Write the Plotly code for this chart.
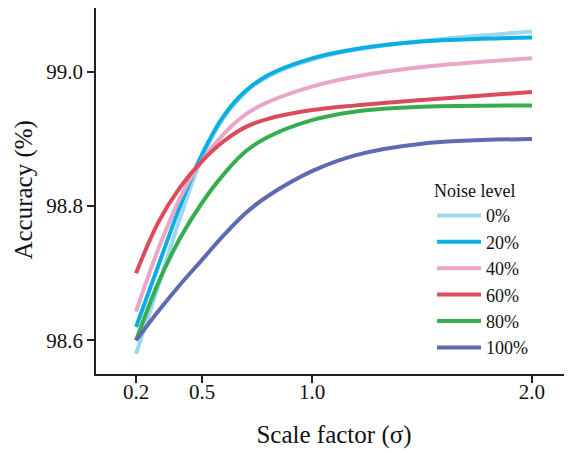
import plotly.graph_objects as go

scale = [0.2, 0.3, 0.4, 0.5, 0.6, 0.7, 0.8, 1.0, 1.2, 1.5, 2.0]

acc_0 = [98.58, 98.68, 98.782, 98.872, 98.932, 98.970, 98.993, 99.018, 99.033, 99.046, 99.06]
acc_20 = [98.62, 98.71, 98.80, 98.877, 98.935, 98.972, 98.995, 99.02, 99.034, 99.045, 99.051]
acc_40 = [98.643, 98.735, 98.812, 98.868, 98.908, 98.937, 98.955, 98.978, 98.993, 99.007, 99.02]
acc_60 = [98.70, 98.775, 98.828, 98.867, 98.897, 98.918, 98.93, 98.943, 98.950, 98.958, 98.97]
acc_80 = [98.60, 98.685, 98.752, 98.805, 98.848, 98.882, 98.903, 98.928, 98.941, 98.948, 98.95]
acc_100 = [98.60, 98.643, 98.683, 98.72, 98.757, 98.79, 98.815, 98.852, 98.876, 98.893, 98.90]

series_names = ["0%", "20%", "40%", "60%", "80%", "100%"]
series_values = [acc_0, acc_20, acc_40, acc_60, acc_80, acc_100]
colors = ["#9dd7f1", "#0aaee3", "#e9a6c6", "#dc4b5b", "#38ad4f", "#5e6bb0"]

x_ticks = [0.2, 0.5, 1.0, 2.0]
x_tick_labels = ["0.2", "0.5", "1.0", "2.0"]
y_ticks = [98.6, 98.8, 99.0]
y_tick_labels = ["98.6", "98.8", "99.0"]

FONT = "Liberation Serif"

fig = go.Figure()
for name, vals, col in zip(series_names, series_values, colors):
    fig.add_trace(go.Scatter(
        x=scale, y=vals, name=name, mode="lines",
        line=dict(color=col, width=4, shape="spline", smoothing=1.0),
    ))

# the page body adds an 8px margin, so the figure is sized to 564x445
fig.update_layout(
    width=564, height=445,
    margin=dict(l=88, r=0, t=0, b=79),
    plot_bgcolor="white", paper_bgcolor="white",
    font=dict(family=FONT, color="#111", size=20),
    showlegend=True,
    legend=dict(
        title=dict(text="Noise level", font=dict(size=18, family=FONT)),
        x=0.706, y=0.547, xanchor="left", yanchor="top",
        bgcolor="rgba(0,0,0,0)", font=dict(size=18, family=FONT),
        itemwidth=44, tracegroupgap=0,
    ),
    xaxis=dict(
        range=[0.018, 2.182], tickvals=x_ticks, ticktext=x_tick_labels,
        showgrid=False, zeroline=False, showline=True, linecolor="#222", linewidth=1.5,
        mirror=True, ticks="outside", ticklen=7, tickcolor="#222", tickwidth=1.5,
        tickfont=dict(size=21, family=FONT), automargin=False, ticklabelstandoff=-9,
        title=dict(text="Scale factor (σ)", font=dict(size=25, family=FONT), standoff=23),
    ),
    yaxis=dict(
        range=[98.55, 99.095], tickvals=y_ticks, ticktext=y_tick_labels,
        showgrid=False, zeroline=False, showline=True, linecolor="#222", linewidth=1.5,
        ticks="outside", ticklen=7, tickcolor="#222", tickwidth=1.5,
        tickfont=dict(size=21, family=FONT), automargin=False,
    ),
    annotations=[dict(
        text="Accuracy (%)", textangle=-90, showarrow=False,
        xref="paper", yref="paper", x=-0.152, y=0.503,
        xanchor="center", yanchor="middle",
        font=dict(size=25, family=FONT, color="#111"),
    )],
)

fig.write_html("out.html")
